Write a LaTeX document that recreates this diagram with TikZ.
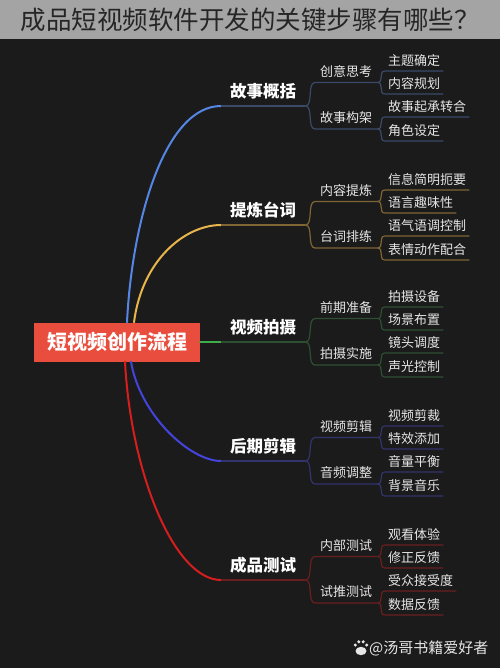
\documentclass[tikz,border=0pt]{standalone}
\usepackage{fontspec}
\setmainfont{Noto Sans CJK SC}
\definecolor{bgdark}{HTML}{1B1B1B}
\definecolor{titlebar}{HTML}{A4A4A4}
\definecolor{titletext}{HTML}{262626}
\definecolor{rootred}{HTML}{E84D3D}
\definecolor{storyb}{HTML}{5585E5}
\definecolor{storyd}{HTML}{3B4A68}
\definecolor{lineb}{HTML}{E8B54D}
\definecolor{lined}{HTML}{806634}
\definecolor{shootb}{HTML}{3FAE4A}
\definecolor{shootd}{HTML}{2E4F33}
\definecolor{editb}{HTML}{4444DD}
\definecolor{editd}{HTML}{33336E}
\definecolor{testb}{HTML}{D61E1E}
\definecolor{testd}{HTML}{6A1F1F}
\definecolor{lbltext}{HTML}{E6E6E6}
\begin{document}
\begin{tikzpicture}[x=1pt,y=-1pt,
    rootbox/.style={fill=rootred, text=white, minimum width=166pt, minimum height=39pt, inner sep=0pt, font=\bfseries\fontsize{20}{20}\selectfont},
    mainlbl/.style={anchor=south west, text=white, inner xsep=0pt, inner ysep=0pt, minimum width=84pt, text height=12pt, text depth=8.7pt, font=\bfseries\fontsize{16.5}{16.5}\selectfont},
    sublbl/.style={anchor=south west, text=lbltext, inner xsep=5pt, inner ysep=0pt, text height=10pt, text depth=6pt, font=\fontsize{13}{13}\selectfont},
    leaflbl/.style={anchor=south west, text=lbltext, inner xsep=3pt, inner ysep=0pt, text height=10pt, text depth=5pt, font=\fontsize{13}{13}\selectfont},
    branch/.style={line width=2pt, line cap=round},
    twig/.style={line width=1.2pt}]
    \useasboundingbox (0,0) rectangle (500,668);
    \fill[titlebar] (0,0) rectangle (500,39);
    \fill[bgdark] (0,39) rectangle (500,668);
    \node[text=titletext, font=\fontsize{25.5}{25.5}\selectfont] (title) at (250,20) {成品短视频软件开发的关键步骤有哪些？};

    \node[rootbox] (root) at (117,342) {短视频创作流程};

    \node[mainlbl] (story) at (221,106) {故事概括};
    \node[mainlbl] (lines) at (221,225) {提炼台词};
    \node[mainlbl] (shoot) at (221,342) {视频拍摄};
    \node[mainlbl] (edit) at (221,461) {后期剪辑};
    \node[mainlbl] (test) at (221,580) {成品测试};

    \node[sublbl] (idea) at (315,82.5) {创意思考};
    \node[sublbl] (frame) at (315,129) {故事构架};
    \node[sublbl] (refine) at (315,201.5) {内容提炼};
    \node[sublbl] (rehearse) at (315,248) {台词排练};
    \node[sublbl] (prep) at (315,318.5) {前期准备};
    \node[sublbl] (act) at (315,365) {拍摄实施};
    \node[sublbl] (vedit) at (315,437.5) {视频剪辑};
    \node[sublbl] (aedit) at (315,484) {音频调整};
    \node[sublbl] (inner) at (315,556.5) {内部测试};
    \node[sublbl] (trial) at (315,603) {试推测试};

    \node[leaflbl] (theme) at (385,71) {主题确定};
    \node[leaflbl] (plan) at (385,94) {内容规划};
    \node[leaflbl] (arc) at (385,117) {故事起承转合};
    \node[leaflbl] (role) at (385,141) {角色设定};
    \node[leaflbl] (brief) at (385,190) {信息简明扼要};
    \node[leaflbl] (fun) at (385,213) {语言趣味性};
    \node[leaflbl] (tone) at (385,236) {语气语调控制};
    \node[leaflbl] (gesture) at (385,260) {表情动作配合};
    \node[leaflbl] (gear) at (385,307) {拍摄设备};
    \node[leaflbl] (scene) at (385,330) {场景布置};
    \node[leaflbl] (camera) at (385,353) {镜头调度};
    \node[leaflbl] (sound) at (385,377) {声光控制};
    \node[leaflbl] (cut) at (385,426) {视频剪裁};
    \node[leaflbl] (fx) at (385,449) {特效添加};
    \node[leaflbl] (level) at (385,472) {音量平衡};
    \node[leaflbl] (music) at (385,496) {背景音乐};
    \node[leaflbl] (watch) at (385,545) {观看体验};
    \node[leaflbl] (fix) at (385,568) {修正反馈};
    \node[leaflbl] (accept) at (385,591) {受众接受度};
    \node[leaflbl] (data) at (385,615) {数据反馈};

    \draw[branch, storyb] ([xshift=10pt]root.north) .. controls (132,220) and (165,106) .. (story.south west);
    \draw[branch, lineb] ([xshift=17pt]root.north) .. controls (142,260) and (185,225) .. (lines.south west);
    \draw[branch, shootb] (root.east) -- (shoot.south west);
    \draw[branch, editb] ([xshift=14pt]root.south) .. controls (140,415) and (190,461) .. (edit.south west);
    \draw[branch, testb] ([xshift=8pt]root.south) .. controls (131,475) and (175,580) .. (test.south west);

    \draw[twig, storyd] (story.south west) -- (story.south east);
    \draw[twig, storyd] (story.south east) .. controls +(8,0) and +(-8,0) .. (idea.south west) -- (idea.south east);
    \draw[twig, storyd] (story.south east) .. controls +(8,0) and +(-8,0) .. (frame.south west) -- (frame.south east);
    \draw[twig, storyd] (idea.south east) .. controls +(7,0) and +(-7,0) .. (theme.south west) -- (theme.south east);
    \draw[twig, storyd] (idea.south east) .. controls +(7,0) and +(-7,0) .. (plan.south west) -- (plan.south east);
    \draw[twig, storyd] (frame.south east) .. controls +(7,0) and +(-7,0) .. (arc.south west) -- (arc.south east);
    \draw[twig, storyd] (frame.south east) .. controls +(7,0) and +(-7,0) .. (role.south west) -- (role.south east);

    \draw[twig, lined] (lines.south west) -- (lines.south east);
    \draw[twig, lined] (lines.south east) .. controls +(8,0) and +(-8,0) .. (refine.south west) -- (refine.south east);
    \draw[twig, lined] (lines.south east) .. controls +(8,0) and +(-8,0) .. (rehearse.south west) -- (rehearse.south east);
    \draw[twig, lined] (refine.south east) .. controls +(7,0) and +(-7,0) .. (brief.south west) -- (brief.south east);
    \draw[twig, lined] (refine.south east) .. controls +(7,0) and +(-7,0) .. (fun.south west) -- (fun.south east);
    \draw[twig, lined] (rehearse.south east) .. controls +(7,0) and +(-7,0) .. (tone.south west) -- (tone.south east);
    \draw[twig, lined] (rehearse.south east) .. controls +(7,0) and +(-7,0) .. (gesture.south west) -- (gesture.south east);

    \draw[twig, shootd] (shoot.south west) -- (shoot.south east);
    \draw[twig, shootd] (shoot.south east) .. controls +(8,0) and +(-8,0) .. (prep.south west) -- (prep.south east);
    \draw[twig, shootd] (shoot.south east) .. controls +(8,0) and +(-8,0) .. (act.south west) -- (act.south east);
    \draw[twig, shootd] (prep.south east) .. controls +(7,0) and +(-7,0) .. (gear.south west) -- (gear.south east);
    \draw[twig, shootd] (prep.south east) .. controls +(7,0) and +(-7,0) .. (scene.south west) -- (scene.south east);
    \draw[twig, shootd] (act.south east) .. controls +(7,0) and +(-7,0) .. (camera.south west) -- (camera.south east);
    \draw[twig, shootd] (act.south east) .. controls +(7,0) and +(-7,0) .. (sound.south west) -- (sound.south east);

    \draw[twig, editd] (edit.south west) -- (edit.south east);
    \draw[twig, editd] (edit.south east) .. controls +(8,0) and +(-8,0) .. (vedit.south west) -- (vedit.south east);
    \draw[twig, editd] (edit.south east) .. controls +(8,0) and +(-8,0) .. (aedit.south west) -- (aedit.south east);
    \draw[twig, editd] (vedit.south east) .. controls +(7,0) and +(-7,0) .. (cut.south west) -- (cut.south east);
    \draw[twig, editd] (vedit.south east) .. controls +(7,0) and +(-7,0) .. (fx.south west) -- (fx.south east);
    \draw[twig, editd] (aedit.south east) .. controls +(7,0) and +(-7,0) .. (level.south west) -- (level.south east);
    \draw[twig, editd] (aedit.south east) .. controls +(7,0) and +(-7,0) .. (music.south west) -- (music.south east);

    \draw[twig, testd] (test.south west) -- (test.south east);
    \draw[twig, testd] (test.south east) .. controls +(8,0) and +(-8,0) .. (inner.south west) -- (inner.south east);
    \draw[twig, testd] (test.south east) .. controls +(8,0) and +(-8,0) .. (trial.south west) -- (trial.south east);
    \draw[twig, testd] (inner.south east) .. controls +(7,0) and +(-7,0) .. (watch.south west) -- (watch.south east);
    \draw[twig, testd] (inner.south east) .. controls +(7,0) and +(-7,0) .. (fix.south west) -- (fix.south east);
    \draw[twig, testd] (trial.south east) .. controls +(7,0) and +(-7,0) .. (accept.south west) -- (accept.south east);
    \draw[twig, testd] (trial.south east) .. controls +(7,0) and +(-7,0) .. (data.south west) -- (data.south east);

    \fill[lbltext] (361,651) ellipse (5.5 and 4.2);
    \fill[lbltext] (355.3,645) circle (1.7) (358.8,641.8) circle (1.7) (363.2,641.8) circle (1.7) (366.7,645) circle (1.7);
    \node[anchor=west, text=lbltext, inner sep=0pt, font=\fontsize{15}{15}\selectfont] (mark) at (369,648) {@汤哥书籍爱好者};
\end{tikzpicture}
\end{document}
